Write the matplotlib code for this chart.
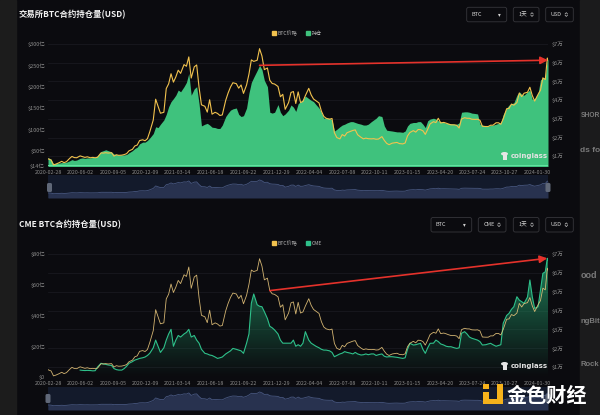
import numpy as np
import pandas as pd
import matplotlib
matplotlib.use("Agg")
import matplotlib.pyplot as plt
import matplotlib.dates as mdates
from matplotlib.patches import Rectangle, FancyBboxPatch, Patch, Ellipse
from matplotlib.colors import LinearSegmentedColormap

plt.rcParams['font.family'] = ['Noto Sans CJK SC', 'DejaVu Sans']

W, H = 600, 415
BG = '#0b0b0f'
GREEN = '#3fc27d'
TEAL = '#2ec08a'
YELLOW = '#f2c24e'
GRID = '#1b1c23'
TICK = '#8c8c8c'

# sample dates: 2020-02-28, days 1/8/15/22 of every month, then the last two days
dates = [pd.Timestamp('2020-02-28')]
for m in pd.period_range('2020-03', '2024-02', freq='M'):
    for d in (1, 8, 15, 22):
        dates.append(pd.Timestamp(m.year, m.month, d))
dates += [pd.Timestamp('2024-02-28'), pd.Timestamp('2024-03-01')]
dates = pd.DatetimeIndex(dates)

# BTC price, thousand USD
btc_price = np.array([
    8.7,
    8.5, 8.0, 5.4, 5.8, 6.6, 7.3, 6.6, 7.1, 8.8, 9.9, 9.3, 9.2,
    10.2, 9.8, 9.4, 9.7, 9.2, 9.4, 9.2, 9.5, 11.8, 11.7, 11.9, 11.7,
    11.9, 10.1, 10.8, 10.5, 10.6, 10.9, 11.4, 12.9, 13.7, 15.5, 16.0, 18.4,
    18.8, 18.3, 19.4, 23.2,
    # 2021
    29.4, 40.5, 36.8, 33.0, 33.5, 46.2, 48.7, 54.1, 49.6, 52.4, 56.0, 54.3,
    59.0, 58.1, 63.1, 51.8, 57.8, 58.8, 46.8, 37.5, 36.7, 33.6, 40.2, 32.5,
    33.5, 32.9, 31.8, 32.1, 39.9, 43.8, 47.0, 49.3, 48.8, 46.4, 48.1, 43.6,
    48.1, 53.9, 61.5, 60.7, 61.3, 67.5, 63.6, 56.3, 57.2, 50.6, 48.9, 48.6,
    # 2022
    47.3, 41.8, 43.1, 35.1, 38.7, 44.1, 44.6, 38.2, 44.4, 38.7, 39.3, 42.4,
    46.3, 42.8, 40.6, 39.7, 38.5, 34.1, 31.3, 30.3, 29.8, 30.2, 22.6, 20.0,
    19.3, 21.6, 20.8, 22.6, 23.3, 23.8, 24.1, 21.5, 20.1, 19.3, 19.7, 19.4,
    19.3, 19.4, 19.1, 19.2, 20.5, 18.5, 16.9, 16.2, 17.0, 17.2, 17.4, 16.8,
    # 2023
    16.6, 17.1, 20.9, 22.7, 23.7, 22.9, 24.3, 24.2, 23.6, 21.7, 24.4, 27.3,
    28.5, 28.0, 30.3, 27.8, 28.1, 27.7, 27.2, 26.8, 26.8, 26.5, 25.1, 29.9,
    30.6, 30.3, 30.3, 29.8, 29.7, 29.8, 29.2, 26.0, 25.9, 25.9, 26.6, 26.6,
    27.9, 27.9, 27.1, 30.0, 35.4, 35.6, 37.9, 37.3, 38.7, 43.8, 41.9, 43.7,
    # 2024
    44.2, 46.9, 42.5, 39.5, 43.1, 45.3, 51.9, 51.0,
    62.5, 61.5,
])

# exchange open interest, 100M USD (亿)
exchange_oi = np.array([
    33,
    33, 30, 19, 20, 21, 22, 22, 23, 26, 29, 27, 28,
    32, 33, 32, 33, 33, 34, 34, 38, 48, 50, 52, 50,
    47, 42, 41, 40, 40, 40, 41, 45, 50, 55, 58, 66,
    70, 70, 74, 80,
    # 2021
    90, 106, 104, 112, 122, 135, 153, 165, 172, 180, 192, 188,
    200, 210, 231, 180, 195, 200, 160, 108, 112, 114, 110, 105,
    104, 102, 102, 110, 130, 138, 145, 148, 150, 135, 130, 132,
    150, 185, 210, 222, 238, 250, 240, 215, 200, 140, 138, 140,
    # 2022
    158, 140, 132, 136, 145, 157, 152, 142, 160, 165, 170, 178,
    172, 168, 165, 158, 150, 140, 126, 127, 126, 122, 96, 100,
    106, 110, 112, 115, 118, 118, 116, 114, 112, 110, 110, 112,
    118, 122, 126, 132, 130, 108, 98, 97, 96, 95, 94, 94,
    # 2023
    93, 96, 108, 114, 116, 116, 118, 118, 112, 104, 120, 124,
    126, 124, 120, 118, 116, 114, 114, 113, 112, 112, 115, 140,
    141, 141, 140, 138, 137, 136, 112, 110, 108, 108, 109, 110,
    112, 114, 116, 135, 150, 157, 160, 162, 180, 188, 182, 180,
    # 2024
    188, 192, 170, 172, 185, 216, 220, 222,
    267, 262,
], dtype=float)

# CME open interest, 100M USD (亿)
nan = np.nan
cme_oi = np.array([
    nan,
    nan, nan, nan, nan, nan, nan, nan, nan, nan, nan, nan, nan,
    4.5, 4.3, 4.2, 4.3, 4.2, 4.0, 4.1, 6.5, 8.9, 8.5, 8.2, 7.8,
    7.5, 5.5, 4.8, 4.5, 4.5, 5.5, 7.0, 8.9, 10.0, 11.0, 11.5, 12.1,
    12.5, 13.0, 14.0, 15.5,
    # 2021
    19.0, 24.0, 20.0, 16.0, 19.0, 24.0, 28.0, 31.0, 20.0, 24.0, 27.0, 26.0,
    28.0, 29.0, 31.0, 26.0, 27.0, 24.0, 22.0, 18.0, 15.4, 15.0, 14.3, 14.0,
    13.0, 12.1, 12.5, 13.0, 15.0, 16.0, 17.0, 18.6, 18.0, 17.5, 17.0, 15.4,
    22.0, 28.0, 48.0, 54.0, 47.0, 46.0, 45.7, 42.5, 38.0, 33.0, 32.0, 30.6,
    # 2022
    28, 24, 22, 22, 22, 22, 24, 20, 21, 20, 22, 29.5,
    24, 22, 21, 20, 19, 18, 17.5, 17.5, 17, 16, 13.2, 14,
    15, 15.5, 16.5, 16, 15.5, 15, 16, 15, 14.3, 14.5, 15, 14.5,
    15, 15, 14, 14.5, 15, 13.5, 13, 13.2, 13.2, 13, 12.8, 12.5,
    # 2023
    12.1, 12.5, 18, 21.9, 20.8, 21, 21.5, 21.9, 18, 15.4, 19, 21.9,
    22, 24, 23, 21.5, 20.8, 20, 19.7, 19.7, 19, 18.6, 19, 28.4,
    29.5, 28, 26, 25.2, 24.5, 24, 23, 20.8, 21, 21.5, 21.9, 21,
    20, 20.5, 21, 35, 40, 41.4, 44, 45.7, 52.2, 50, 49, 47.9,
    # 2024
    52, 63.1, 52.2, 44.6, 45.7, 56.6, 67.4, 68.4,
    77.2, 76,
])

date_labels = ['2020-02-28', '2020-06-02', '2020-09-05', '2020-12-09',
               '2021-03-14', '2021-06-18', '2021-09-22', '2021-12-29',
               '2022-04-04', '2022-07-08', '2022-10-11', '2023-01-15',
               '2023-04-20', '2023-07-24', '2023-10-27', '2024-01-30']

price_ticks = [10, 20, 30, 40, 50, 60, 70]
price_labels = ['$%d万' % (p // 10) for p in price_ticks]
price_lim = (4.8, 70)

top_ticks = [14, 50, 100, 150, 200, 250, 300]
top_labels = ['$14亿', '$50亿', '$100亿', '$150亿', '$200亿', '$250亿', '$300亿']
cme_ticks = [0, 20, 40, 60, 80]
cme_labels = ['$0', '$20亿', '$40亿', '$60亿', '$80亿']


def box(x, y, w, h):
    # pixel box with top-left origin -> figure fraction
    return [x / W, 1 - (y + h) / H, w / W, h / H]


fig = plt.figure(figsize=(6, 4.15), dpi=100)
fig.patch.set_facecolor(BG)

bg = fig.add_axes([0, 0, 1, 1])
bg.set_xlim(0, W)
bg.set_ylim(H, 0)
bg.axis('off')
bg.add_patch(Rectangle((0, 0), 16, H, color='#1c1c1c'))
bg.add_patch(Rectangle((580, 0), 20, H, color='#1b1b1c'))


def style_axes(ax, axr, ylim, ticks, labels):
    ax.set_ylim(*ylim)
    ax.set_yticks(ticks)
    ax.set_yticklabels(labels)
    axr.set_ylim(*price_lim)
    axr.set_yticks(price_ticks)
    axr.set_yticklabels(price_labels)
    ax.set_xlim(dates[0], dates[-1])
    ax.set_xticks(pd.to_datetime(date_labels))
    ax.set_xticklabels(date_labels)
    ax.tick_params(axis='y', length=0, pad=2.2, labelsize=4, labelcolor=TICK)
    ax.tick_params(axis='x', length=0, pad=2.6, labelsize=3.8, labelcolor=TICK)
    axr.tick_params(axis='y', length=0, pad=2.7, labelsize=4, labelcolor=TICK)
    for a in (ax, axr):
        for s in a.spines.values():
            s.set_visible(False)
    # split lines follow the price axis
    lo, hi = ylim
    for p in price_ticks:
        f = (p - price_lim[0]) / (price_lim[1] - price_lim[0])
        ax.axhline(lo + f * (hi - lo), color=GRID, lw=0.5, zorder=0)


def slider(y0):
    s = fig.add_axes(box(48, y0, 500, 23))
    s.set_facecolor('#131a2b')
    s.fill_between(dates, -14, btc_price, color='#28324f', lw=0)
    s.plot(dates, btc_price, color='#47567e', lw=0.6)
    s.set_xlim(dates[0], dates[-1])
    s.set_ylim(-14, 90)
    s.set_xticks([])
    s.set_yticks([])
    for sp in s.spines.values():
        sp.set_visible(False)


arrow_kw = dict(arrowstyle='-|>,head_length=0.45,head_width=0.22',
                color='#e5322b', lw=1.2, shrinkA=0, shrinkB=0)

# ---- top: exchange open interest
ax1 = fig.add_axes(box(48, 44, 500, 122))
ax1.set_facecolor('none')
ax1.fill_between(dates, 0, exchange_oi, color=GREEN, lw=0, zorder=2)
ax1.axhline(14, color='#62e3a2', lw=1.4, zorder=3)
ax1r = ax1.twinx()
ax1r.plot(dates, btc_price, color=YELLOW, lw=0.8)
style_axes(ax1, ax1r, (14, 300), top_ticks, top_labels)
slider(175)

i_peak = int(np.argmax(exchange_oi[:120]))
ax1r.annotate('', xy=(mdates.date2num(dates[-1]), exchange_oi[-1]),
              xycoords=ax1.transData,
              xytext=(mdates.date2num(dates[i_peak]), exchange_oi[i_peak]),
              textcoords=ax1.transData, arrowprops=arrow_kw,
              annotation_clip=False)

# ---- bottom: CME open interest
ax2 = fig.add_axes(box(48, 254, 500, 123))
ax2.set_facecolor('none')
ok = ~np.isnan(cme_oi)
fill = ax2.fill_between(dates[ok], 0, cme_oi[ok], color='none', lw=0)
cmap = LinearSegmentedColormap.from_list(
    'g', [(0.12, 0.55, 0.38, 0.0), (0.15, 0.66, 0.45, 0.8)])
xn = mdates.date2num(dates)
img = ax2.imshow(np.linspace(1, 0, 256).reshape(-1, 1), cmap=cmap,
                 extent=[xn[0], xn[-1], 0, 80], aspect='auto',
                 origin='upper', zorder=1)
img.set_clip_path(fill.get_paths()[0], transform=ax2.transData)
ax2.plot(dates, cme_oi, color=TEAL, lw=0.8, zorder=3)
ax2r = ax2.twinx()
ax2r.plot(dates, btc_price, color='#e8c67c', lw=0.6, alpha=0.9)
style_axes(ax2, ax2r, (0, 80), cme_ticks, cme_labels)
slider(387)

i_start = list(dates).index(pd.Timestamp('2021-12-08'))
ax2r.annotate('', xy=(xn[-2], cme_oi[-2]), xycoords=ax2.transData,
              xytext=(xn[i_start], btc_price[i_start]), textcoords='data',
              arrowprops=arrow_kw, annotation_clip=False)

# ---- overlay: titles, controls, legends, watermarks
ov = fig.add_axes([0, 0, 1, 1])
ov.set_xlim(0, W)
ov.set_ylim(H, 0)
ov.axis('off')

ov.text(19, 15, '交易所BTC合约持仓量(USD)', fontsize=6, fontweight='bold',
        color='#f2f2f2', va='center', ha='left')
ov.text(19, 225, 'CME BTC合约持仓量(USD)', fontsize=6, fontweight='bold',
        color='#f2f2f2', va='center', ha='left')


def control(x0, x1, y0, label, drop):
    h = 14.5
    ov.add_patch(FancyBboxPatch((x0, y0), x1 - x0, h,
                                boxstyle='round,pad=0,rounding_size=2',
                                fc=BG, ec='#36363b', lw=0.6))
    cy = y0 + h / 2
    ov.text(x0 + 5, cy, label, fontsize=4, color='#d2d2d2', va='center')
    cx = x1 - 7
    if drop:
        ov.text(cx, cy, '▾', fontsize=4, color='#d2d2d2', va='center',
                ha='center', family='DejaVu Sans')
    else:
        ov.plot([cx - 1.2, cx, cx + 1.2], [cy - 0.6, cy - 1.9, cy - 0.6],
                color='#bdbdbd', lw=0.5)
        ov.plot([cx - 1.2, cx, cx + 1.2], [cy + 0.6, cy + 1.9, cy + 0.6],
                color='#bdbdbd', lw=0.5)


control(466.7, 506.7, 7.3, 'BTC', True)
control(513.3, 539.0, 7.3, '1天', False)
control(545.7, 573.3, 7.3, 'USD', False)
control(431.0, 471.7, 217.5, 'BTC', True)
control(478.3, 506.0, 217.5, 'CME', False)
control(513.3, 539.0, 217.5, '1天', False)
control(545.7, 573.3, 217.5, 'USD', False)

leg_kw = dict(loc='center', bbox_transform=fig.transFigure, ncol=2,
              frameon=False, fontsize=3.7, handlelength=0.75,
              handleheight=0.75, handletextpad=0.35, columnspacing=1.6,
              labelcolor='#b0b0b0', borderpad=0)
leg1 = ov.legend([Patch(color=YELLOW), Patch(color=GREEN)], ['BTC价格', '持仓'],
                 bbox_to_anchor=(297 / W, 1 - 33 / H), **leg_kw)
ov.add_artist(leg1)
ov.legend([Patch(color=YELLOW), Patch(color=TEAL)], ['BTC价格', 'CME'],
          bbox_to_anchor=(297 / W, 1 - 243 / H), **leg_kw)

# slider handles
for hx, hy in ((47, 183), (545.5, 183), (45.5, 394), (545.5, 394)):
    ov.add_patch(FancyBboxPatch((hx, hy), 5, 9,
                                boxstyle='round,pad=0,rounding_size=1.5',
                                fc='#606878', ec='none'))

# coinglass watermark
for wy in (156, 366):
    ov.add_patch(Ellipse((504.5, wy - 2.2), 7, 3.6, fc='#e6e6e6', ec='none'))
    ov.add_patch(Rectangle((502.5, wy - 1), 4, 5, fc='#e6e6e6', ec='none'))
    ov.text(511, wy, 'coinglass', fontsize=5, fontweight='bold',
            color='#e2e2e2', va='center', ha='left', family='DejaVu Sans')

# 金色财经 watermark
GOLD = '#f6b21b'
for rx, ry, rw, rh in ((483.3, 383.5, 5.5, 5.5), (483.3, 392.3, 5.3, 11.8),
                       (483.3, 399.0, 19.4, 5.1), (497.4, 383.5, 5.3, 20.6)):
    ov.add_patch(Rectangle((rx, ry), rw, rh, fc=GOLD, ec='none'))
ov.text(507, 395, '金色财经', fontsize=14.5, fontweight='bold',
        color='white', va='center', ha='left')

# page fragments on the right edge
for txt, y, size in (('SHOR', 115, 4.8), ('ds fo', 150, 6), ('ood', 275, 6.5),
                     ('ngBit', 321, 5.5), ('Rock', 364, 5.5)):
    ov.text(580.5, y, txt, fontsize=size, fontweight='bold', color='#7a7a7a',
            va='center', ha='left', family='Liberation Sans')

fig.savefig('out.png', dpi=100, facecolor=fig.get_facecolor())
